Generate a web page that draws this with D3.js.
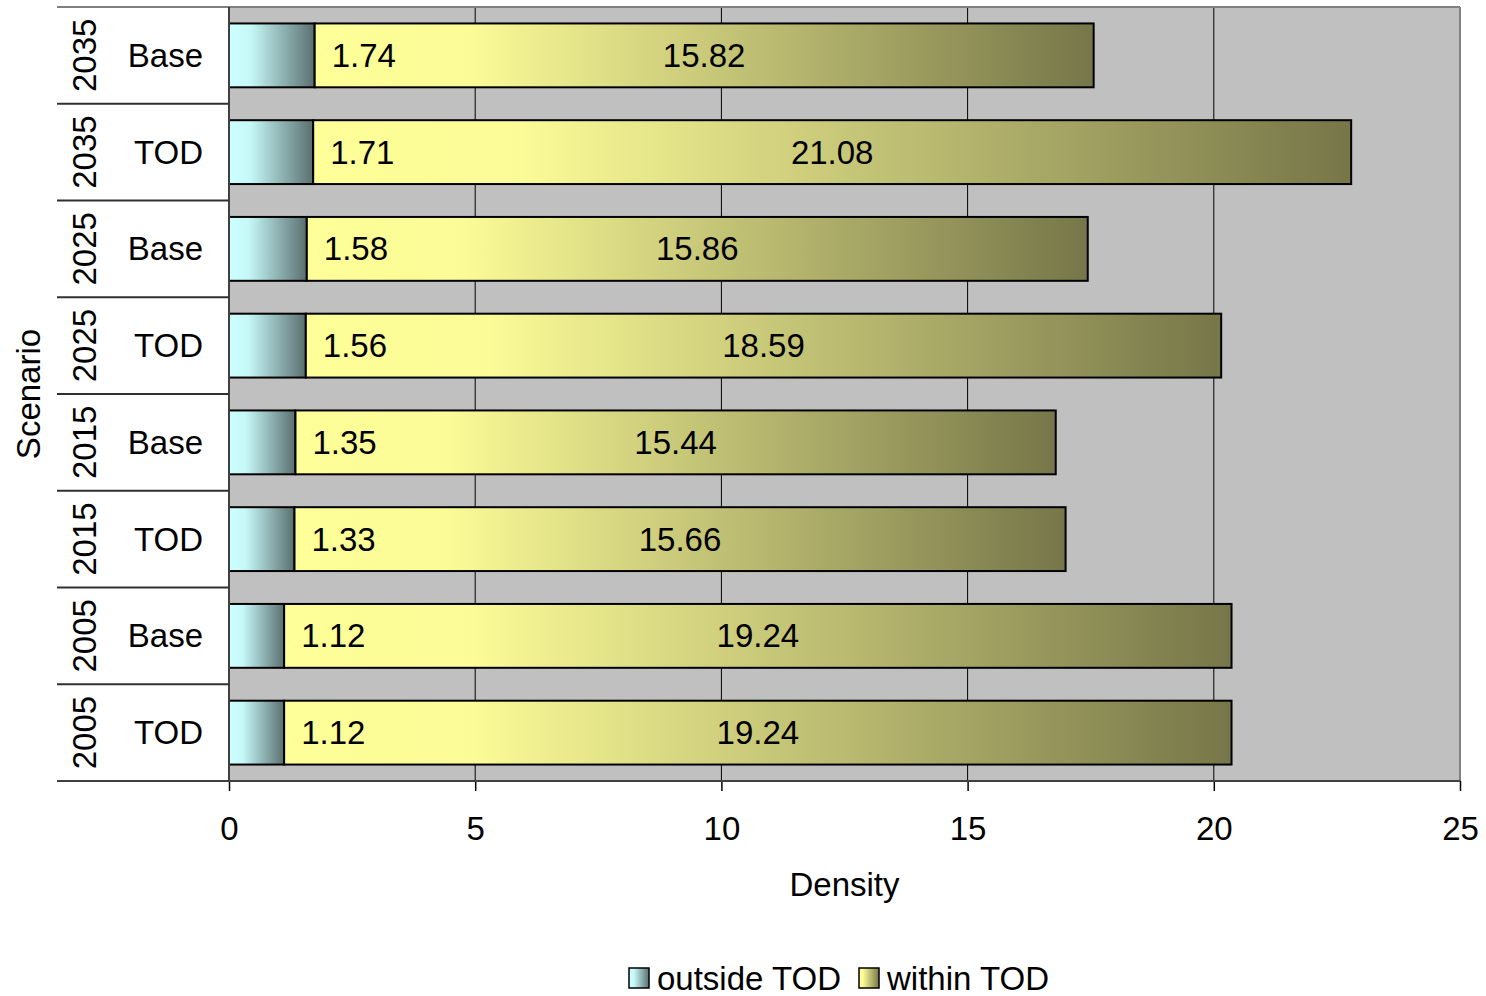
<!DOCTYPE html>
<html>
<head>
<meta charset="utf-8">
<script src="https://cdn.jsdelivr.net/npm/d3@7"></script>
<style>
  html, body { margin: 0; padding: 0; background: #fff; }
  svg { display: block; font-family: Arial, "Liberation Sans", sans-serif; }
</style>
</head>
<body>
<svg id="chart" width="1486" height="996"></svg>
<script>
// ---- data (top to bottom as displayed) ----
const years = ["2035", "2035", "2025", "2025", "2015", "2015", "2005", "2005"];
const scenarios = ["Base", "TOD", "Base", "TOD", "Base", "TOD", "Base", "TOD"];
const outsideTOD = [1.74, 1.71, 1.58, 1.56, 1.35, 1.33, 1.12, 1.12];
const withinTOD = [15.82, 21.08, 15.86, 18.59, 15.44, 15.66, 19.24, 19.24];
const seriesNames = ["outside TOD", "within TOD"];
const xTicks = [0, 5, 10, 15, 20, 25];

const svg = d3.select("#chart");
const plot = { left: 229, right: 1460, top: 7, bottom: 781 };
const FONT = 33;

const ids = years.map((y, i) => i);
const x = d3.scaleLinear().domain([0, 25]).range([plot.left, plot.right]);
const y = d3.scaleBand().domain(ids).range([plot.top, plot.bottom]).paddingInner(0.34).paddingOuter(0.17);

// gradients
const defs = svg.append("defs");
function grad(id, stops) {
  const g = defs.append("linearGradient").attr("id", id)
    .attr("x1", "0%").attr("y1", "0%").attr("x2", "100%").attr("y2", "0%");
  stops.forEach(s => g.append("stop").attr("offset", s[0]).attr("stop-color", s[1]));
}
grad("gOut", [[0, "#ccffff"], [0.25, "#c6f8f8"], [1, "#5a6f6f"]]);
grad("gIn", [[0, "#ffff99"], [0.2, "#fbfb97"], [1, "#767649"]]);

// plot background
svg.append("rect").attr("x", plot.left).attr("y", plot.top)
  .attr("width", plot.right - plot.left).attr("height", plot.bottom - plot.top)
  .attr("fill", "#c0c0c0");

// gridlines
svg.append("g").selectAll("line").data(xTicks.filter(t => t > 0 && t < 25)).join("line")
  .attr("x1", d => x(d)).attr("x2", d => x(d))
  .attr("y1", plot.top).attr("y2", plot.bottom)
  .attr("stroke", "#000").attr("stroke-width", 1);

// plot border top/right
svg.append("line").attr("x1", 57).attr("x2", plot.right).attr("y1", plot.top).attr("y2", plot.top)
  .attr("stroke", "#808080").attr("stroke-width", 2);
svg.append("line").attr("x1", plot.right).attr("x2", plot.right).attr("y1", plot.top).attr("y2", plot.bottom)
  .attr("stroke", "#808080").attr("stroke-width", 2);

// bars
const bars = svg.append("g");
bars.selectAll("rect.out").data(ids).join("rect").attr("class", "out")
  .attr("x", x(0)).attr("y", i => y(i))
  .attr("width", i => x(outsideTOD[i]) - x(0)).attr("height", y.bandwidth())
  .attr("fill", "url(#gOut)").attr("stroke", "#000").attr("stroke-width", 2);
bars.selectAll("rect.in").data(ids).join("rect").attr("class", "in")
  .attr("x", i => x(outsideTOD[i])).attr("y", i => y(i))
  .attr("width", i => x(outsideTOD[i] + withinTOD[i]) - x(outsideTOD[i])).attr("height", y.bandwidth())
  .attr("fill", "url(#gIn)").attr("stroke", "#000").attr("stroke-width", 2);

// data labels
const lbl = svg.append("g").attr("font-size", FONT).attr("fill", "#000");
lbl.selectAll("text.o").data(ids).join("text").attr("class", "o")
  .attr("x", i => x(outsideTOD[i]) + 17).attr("y", i => y(i) + y.bandwidth() / 2)
  .attr("dominant-baseline", "central").attr("text-anchor", "start")
  .text(i => outsideTOD[i].toFixed(2));
lbl.selectAll("text.w").data(ids).join("text").attr("class", "w")
  .attr("x", i => (x(outsideTOD[i]) + x(outsideTOD[i] + withinTOD[i])) / 2)
  .attr("y", i => y(i) + y.bandwidth() / 2)
  .attr("dominant-baseline", "central").attr("text-anchor", "middle")
  .text(i => withinTOD[i].toFixed(2));

// x axis
const xAxis = svg.append("g").attr("transform", `translate(0,${plot.bottom})`)
  .call(d3.axisBottom(x).tickValues(xTicks).tickSize(10).tickPadding(26).tickFormat(d3.format("d")));
xAxis.select(".domain").remove();
xAxis.selectAll(".tick line").attr("stroke", "#000").attr("stroke-width", 1.5);
xAxis.selectAll(".tick text").attr("font-size", FONT).attr("font-family", "Arial, 'Liberation Sans', sans-serif").attr("fill", "#000");
svg.append("line").attr("x1", 57).attr("x2", plot.right).attr("y1", plot.bottom).attr("y2", plot.bottom)
  .attr("stroke", "#404040").attr("stroke-width", 2);

// y axis line
svg.append("line").attr("x1", plot.left).attr("x2", plot.left).attr("y1", plot.top).attr("y2", plot.bottom)
  .attr("stroke", "#404040").attr("stroke-width", 2);

// multi-level category labels
const step = y.step();
const rowTop = i => y(i) - y.paddingOuter() * step;
const cat = svg.append("g").attr("font-size", FONT).attr("fill", "#000");
cat.selectAll("line").data(ids.slice(1)).join("line")
  .attr("x1", 57).attr("x2", plot.left)
  .attr("y1", i => rowTop(i)).attr("y2", i => rowTop(i))
  .attr("stroke", "#303030").attr("stroke-width", 2);
cat.selectAll("text.yr").data(ids).join("text").attr("class", "yr")
  .attr("transform", i => `translate(84,${y(i) + y.bandwidth() / 2}) rotate(-90)`)
  .attr("text-anchor", "middle").attr("dominant-baseline", "central")
  .text(i => years[i]);
cat.selectAll("text.sc").data(ids).join("text").attr("class", "sc")
  .attr("x", 203).attr("y", i => y(i) + y.bandwidth() / 2)
  .attr("text-anchor", "end").attr("dominant-baseline", "central")
  .text(i => scenarios[i]);

// axis titles
svg.append("text").attr("transform", `translate(28,${(plot.top + plot.bottom) / 2}) rotate(-90)`)
  .attr("text-anchor", "middle").attr("dominant-baseline", "central")
  .attr("font-size", FONT).text("Scenario");
svg.append("text").attr("x", (plot.left + plot.right) / 2).attr("y", 884)
  .attr("text-anchor", "middle").attr("dominant-baseline", "central")
  .attr("font-size", FONT).text("Density");

// legend
const legend = svg.append("g").attr("font-size", FONT);
const legX = [629, 859];
const fills = ["url(#gOut)", "url(#gIn)"];
seriesNames.forEach((n, k) => {
  legend.append("rect").attr("x", legX[k]).attr("y", 968).attr("width", 20).attr("height", 20)
    .attr("fill", fills[k]).attr("stroke", "#000").attr("stroke-width", 1.5);
  legend.append("text").attr("x", legX[k] + 28).attr("y", 978)
    .attr("dominant-baseline", "central").text(n);
});
</script>
</body>
</html>
